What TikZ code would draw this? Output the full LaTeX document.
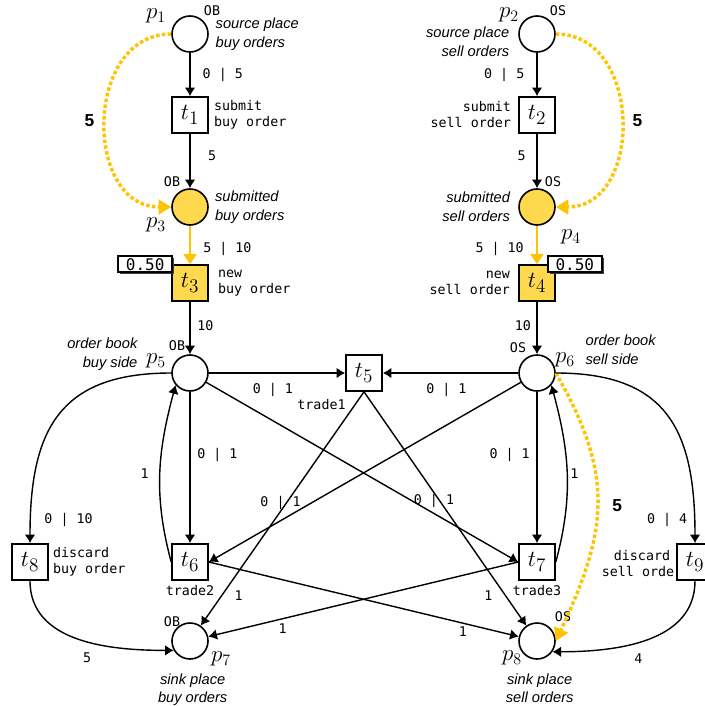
\documentclass[tikz,border=0pt]{standalone}
\usepackage{fontspec}
\setsansfont{Liberation Sans}
\setmonofont{DejaVu Sans Mono}
\usetikzlibrary{positioning,arrows.meta,shadows}
\definecolor{tokenfill}{HTML}{FFD94D}
\definecolor{firegold}{HTML}{FFC400}
\tikzset{
  place/.style={circle, draw, fill=white, line width=1.2pt, minimum size=27pt, inner sep=0pt},
  marked place/.style={place, fill=tokenfill},
  transition/.style={rectangle, draw, fill=white, line width=1.2pt, minimum size=27pt, inner sep=0pt, font=\fontsize{19}{22}\selectfont},
  fired transition/.style={transition, fill=tokenfill},
  pn arc/.style={-{Latex[length=6.5pt,width=8pt]}, line width=1.05pt},
  fire arc/.style={-{Triangle[length=7.5pt,width=9.5pt]}, draw=firegold, line width=1.9pt},
  token flow/.style={-{Triangle[length=9.5pt,width=11pt]}, draw=firegold, line width=2.6pt, dash pattern=on 2.6pt off 1.8pt},
  weight/.style={font=\ttfamily\fontsize{10}{12}\selectfont, inner sep=1pt},
  flow weight/.style={font=\sffamily\bfseries\fontsize{13}{15}\selectfont, inner sep=1pt},
  colour tag/.style={font=\ttfamily\fontsize{10}{12}\selectfont, inner sep=0pt},
  place name/.style={font=\LARGE, inner sep=0pt},
  descr/.style={font=\sffamily\itshape\fontsize{11}{14}\selectfont, inner sep=1pt},
  act text/.style={font=\ttfamily\fontsize{10}{12}\selectfont, inner sep=1pt},
  rate box/.style={draw, fill=white, line width=1.5pt, font=\ttfamily\fontsize{12}{14}\selectfont,
    minimum width=40.5pt, minimum height=12pt, inner sep=0pt,
    drop shadow={shadow xshift=1.5pt, shadow yshift=-1.5pt, fill=black!75, opacity=1}},
}

\begin{document}
\begin{tikzpicture}[x=0.75pt, y=0.75pt]
  \useasboundingbox (0,0) rectangle (704,-706);

  \node [place] (p1) at (190,-34) {};
  \node [place] (p2) at (537,-34) {};
  \node [transition] (t1) at (190,-115) {$t_1$};
  \node [transition] (t2) at (537,-115) {$t_2$};
  \node [marked place] (p3) at (190,-207) {};
  \node [marked place] (p4) at (537,-207) {};
  \node [fired transition] (t3) at (190,-283) {$t_3$};
  \node [fired transition] (t4) at (537,-283) {$t_4$};
  \node [place] (p5) at (190,-373) {};
  \node [place] (p6) at (537,-373) {};
  \node [transition] (t5) at (364,-373) {$t_5$};
  \node [transition] (t6) at (190,-562) {$t_6$};
  \node [transition] (t7) at (537,-562) {$t_7$};
  \node [transition] (t8) at (30,-562) {$t_8$};
  \node [act text, align=center] (a9) at (642,-564) {discard\\sell order};
  \node [transition] (t9) at (695,-562) {$t_9$};
  \node [place] (p7) at (190,-641) {};
  \node [place] (p8) at (537,-641) {};

  \node [rate box, anchor=south east] (r3) at ([xshift=1.5pt, yshift=-6.75pt]t3.north west) {0.50};
  \node [rate box, anchor=south west] (r4) at ([xshift=-6.75pt, yshift=-6.75pt]t4.north east) {0.50};

  \node [place name] (n1) at (156,-16) {$p_1$};
  \node [place name] (n2) at (509,-15) {$p_2$};
  \node [place name] (n3) at (156,-225) {$p_3$};
  \node [place name] (n4) at (571,-237) {$p_4$};
  \node [place name] (n5) at (156,-361) {$p_5$};
  \node [place name] (n6) at (565,-360) {$p_6$};
  \node [place name] (n7) at (221,-659) {$p_7$};
  \node [place name] (n8) at (512,-658) {$p_8$};

  \node [colour tag] (c1) at (212,-11) {OB};
  \node [colour tag] (c2) at (558,-11) {OS};
  \node [colour tag] (c3) at (172,-182) {OB};
  \node [colour tag] (c4) at (553,-182) {OS};
  \node [colour tag] (c5) at (177,-346) {OB};
  \node [colour tag] (c6) at (518,-348) {OS};
  \node [colour tag] (c7) at (172,-622) {OB};
  \node [colour tag] (c8) at (563,-617) {OS};

  \node [descr, align=left, right=4pt of p1] (d1) {source place\\buy orders};
  \node [descr, align=right, left=5.5pt of p2, yshift=-6pt] (d2) {source place\\sell orders};
  \node [descr, align=left, right=3.5pt of p3] (d3) {submitted\\buy orders};
  \node [descr, align=right, left=5pt of p4] (d4) {submitted\\sell orders};
  \node [descr, align=right, anchor=east] (d5) at (139,-354) {order book\\buy side};
  \node [descr, align=left, anchor=west] (d6) at (584,-350) {order book\\sell side};
  \node [descr, align=center, below=9pt of p7, xshift=2pt] (d7) {sink place\\buy orders};
  \node [descr, align=center, below=9pt of p8, xshift=2pt] (d8) {sink place\\sell orders};

  \node [act text, align=left, right=2.75pt of t1] (a1) {submit\\buy order};
  \node [act text, align=right, left=4.25pt of t2] (a2) {submit\\sell order};
  \node [act text, align=left, right=5.75pt of t3] (a3) {new\\buy order};
  \node [act text, align=right, left=5pt of t4] (a4) {new\\sell order};
  \node [act text, align=left, right=2pt of t8] (a8) {discard\\buy order};
  \node [act text, below left=4.5pt and -1.5pt of t5.south west] (a5) {trade1};
  \node [act text, below=2.5pt of t6] (a6) {trade2};
  \node [act text, below=2.5pt of t7] (a7) {trade3};

  \draw [pn arc] (p1) -- node [weight, right=8pt] {0 | 5} (t1);
  \draw [pn arc] (t1) -- node [weight, pos=0.4, right=12pt] {5} (p3);
  \draw [fire arc] (p3) -- node [weight, pos=0.6, right=8pt] {5 | 10} (t3);
  \draw [pn arc] (t3) -- node [weight, pos=0.45, right=4pt] {10} (p5);
  \draw [pn arc] (p2) -- node [weight, left=8pt] {0 | 5} (t2);
  \draw [pn arc] (t2) -- node [weight, pos=0.4, left=7pt] {5} (p4);
  \draw [fire arc] (p4) -- node [weight, pos=0.6, left=8pt] {5 | 10} (t4);
  \draw [pn arc] (t4) -- node [weight, pos=0.45, left=3pt] {10} (p6);

  \draw [token flow] (p1.west) to [out=180, in=180, looseness=1.3] node [flow weight, left=6pt] {5} (p3.west);
  \draw [token flow] (p2.east) to [out=0, in=0, looseness=1.3] node [flow weight, right=6pt] {5} (p4.east);
  \draw [token flow] (p6.east) to [out=-60, in=65, looseness=1.15] node [flow weight, right=9pt] {5} (p8.east);

  \draw [pn arc] (p5) -- node [weight, pos=0.47, below=6pt] {0 | 1} (t5);
  \draw [pn arc] (p6) -- node [weight, pos=0.53, below=6pt] {0 | 1} (t5);
  \draw [pn arc] (p5) -- node [weight, pos=0.42, right=4pt] {0 | 1} (t6);
  \draw [pn arc] (p6) -- node [weight, pos=0.42, left=4pt] {0 | 1} (t7);
  \draw [pn arc] (t6.west) to [out=105, in=-105] node [weight, left=7pt] {1} (p5.220);
  \draw [pn arc] (t7.east) to [out=75, in=-75] node [weight, right=1pt] {1} (p6.-40);
  \draw [pn arc] (p5) -- node [weight, pos=0.73, above=3pt] {0 | 1} (t7.west);
  \draw [pn arc] (p6) -- node [weight, pos=0.77, above=7pt] {0 | 1} (t6.east);
  \draw [pn arc] (t5.south) -- node [weight, pos=0.87, right=8pt] {1} (p7);
  \draw [pn arc] (t5.south) -- node [weight, pos=0.87, left=8pt] {1} (p8);
  \draw [pn arc] (t6.east) -- node [weight, pos=0.82, below=1pt] {1} (p8);
  \draw [pn arc] (t7.west) -- node [weight, pos=0.76, below=2pt] {1} (p7);
  \draw [pn arc] (p5.west) to [out=180, in=90, looseness=1.3] node [weight, pos=0.93, right=9pt] {0 | 10} (t8.north);
  \draw [pn arc] (t8.south) to [out=-90, in=180] node [weight, pos=0.55, below=7pt] {5} (p7.210);
  \draw [pn arc] (p6.east) to [out=0, in=90, looseness=1.3] node [weight, pos=0.93, left=4pt] {0 | 4} (t9.north);
  \draw [pn arc] (t9.south) to [out=-90, in=0] node [weight, pos=0.55, below=7pt] {4} (p8.-35);
\end{tikzpicture}
\end{document}
